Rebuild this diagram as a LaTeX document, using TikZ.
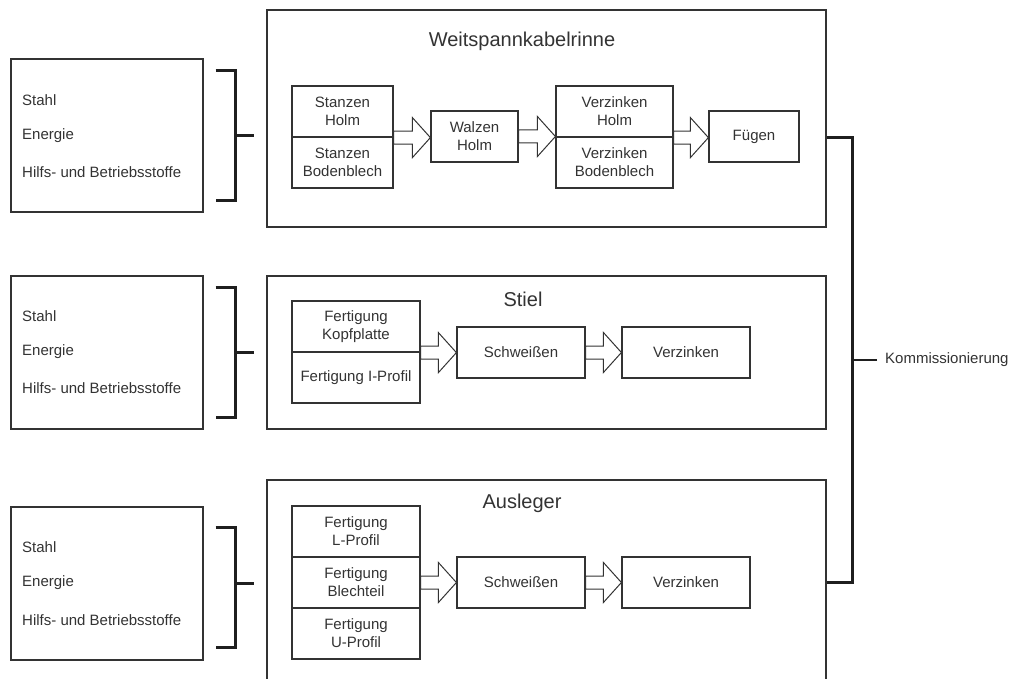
\documentclass[tikz,border=0pt]{standalone}
\usepackage{fontspec}
\setmainfont{Liberation Sans}
\usetikzlibrary{calc}
\begin{document}
\begin{tikzpicture}[x=1pt,y=-1pt,
  frame/.style={draw=black!80, line width=1.2pt, fill=white, inner sep=0pt},
  box/.style 2 args={draw=black!80, line width=1.2pt, fill=white, inner sep=0pt, align=center,
    text=black!80, font=\fontsize{15}{18}\selectfont, minimum width=#1pt, minimum height=#2pt},
  intext/.style={anchor=west, inner sep=0pt, text=black!80, font=\fontsize{15}{18}\selectfont},
  titletext/.style={inner sep=0pt, text=black!80, font=\fontsize{20}{24}\selectfont},
  brack/.style={draw=black!88, line width=2.4pt},
  blockarrow/.style={draw=black!80, line width=1pt, fill=white, line join=miter,
    to path={let \p1=(\tikztostart), \p2=(\tikztotarget) in
      (\x1,\y1+6.5pt) -- (\x2-18pt,\y1+6.5pt) -- (\x2-18pt,\y1+20pt) -- (\x2,\y1)
      -- (\x2-18pt,\y1-20pt) -- (\x2-18pt,\y1-6.5pt) -- (\x1,\y1-6.5pt) -- cycle}}
]
\clip (0,0) rectangle (1027,679);
\fill[white] (0,0) rectangle (1027,679);

% ---------- input boxes ----------
\node[frame, minimum width=192pt, minimum height=153pt] (in1) at (107,135.5) {};
\node[intext] (i1a) at (22,100) {Stahl};
\node[intext] (i1b) at (22,136) {Energie};
\node[intext] (i1c) at (22,172) {Hilfs- und Betriebsstoffe};

\node[frame, minimum width=192pt, minimum height=153pt] (in2) at (107,352.5) {};
\node[intext] (i2a) at (22,316) {Stahl};
\node[intext] (i2b) at (22,352) {Energie};
\node[intext] (i2c) at (22,388) {Hilfs- und Betriebsstoffe};

\node[frame, minimum width=192pt, minimum height=153pt] (in3) at (107,583.5) {};
\node[intext] (i3a) at (22,547) {Stahl};
\node[intext] (i3b) at (22,583) {Energie};
\node[intext] (i3c) at (22,620) {Hilfs- und Betriebsstoffe};

% ---------- brackets ----------
\draw[brack] ([shift={(12,12)}]in1.north east) -- ++(20,0) |- ([shift={(12,-12)}]in1.south east);
\coordinate (t1) at ([xshift=50]in1.east);
\draw[brack] ([xshift=32]in1.east) -- (t1);
\draw[brack] ([shift={(12,12)}]in2.north east) -- ++(20,0) |- ([shift={(12,-12)}]in2.south east);
\coordinate (t2) at ([xshift=50]in2.east);
\draw[brack] ([xshift=32]in2.east) -- (t2);
\draw[brack] ([shift={(12,21)}]in3.north east) -- ++(20,0) |- ([shift={(12,-13)}]in3.south east);
\coordinate (t3) at ([xshift=50]in3.east);
\draw[brack] ([xshift=32]in3.east) -- (t3);

% ---------- group boxes ----------
\node[frame, minimum width=559pt, minimum height=217pt] (g1) at (546.5,118.5) {};
\node[frame, minimum width=559pt, minimum height=153pt] (g2) at (546.5,352.5) {};
\node[frame, minimum width=559pt, minimum height=240pt] (g3) at (546.5,600) {};

\node[titletext] (tt1) at (522,41) {Weitspannkabelrinne};
\node[titletext] (tt2) at (523,299) {Stiel};
\node[titletext] (tt3) at (522,503) {Ausleger};

% ---------- Weitspannkabelrinne ----------
\node[box={101}{51}] (sh) at (342.5,111.5) {Stanzen\\Holm};
\node[box={101}{51}] (sb) at (342.5,162.5) {Stanzen\\Bodenblech};
\node[box={87}{51}] (wh) at (474.5,136.5) {Walzen\\Holm};
\node[box={117}{51}] (vh) at (614.5,111.5) {Verzinken\\Holm};
\node[box={117}{51}] (vb) at (614.5,162.5) {Verzinken\\Bodenblech};
\node[box={90}{51}] (fu) at (754,136.5) {Fügen};

\draw[blockarrow] (sh.south east) to (wh.west);
\draw[blockarrow] (wh.east) to (vh.south west);
\draw[blockarrow] (vh.south east) to (fu.west);

% ---------- Stiel ----------
\node[box={128}{51}] (fk) at (356,326.5) {Fertigung\\Kopfplatte};
\node[box={128}{51}] (fi) at (356,377.5) {Fertigung I-Profil};
\node[box={128}{51}] (s2) at (521,352.5) {Schweißen};
\node[box={128}{51}] (v2) at (686,352.5) {Verzinken};

\draw[blockarrow] (fk.south east) to (s2.west);
\draw[blockarrow] (s2.east) to (v2.west);

% ---------- Ausleger ----------
\node[box={128}{51}] (fl) at (356,531.5) {Fertigung\\L-Profil};
\node[box={128}{51}] (fb) at (356,582.5) {Fertigung\\Blechteil};
\node[box={128}{51}] (fp) at (356,633.5) {Fertigung\\U-Profil};
\node[box={128}{51}] (s3) at (521,582.5) {Schweißen};
\node[box={128}{51}] (v3) at (686,582.5) {Verzinken};

\draw[blockarrow] (fb.east) to (s3.west);
\draw[blockarrow] (s3.east) to (v3.west);

% ---------- Kommissionierung ----------
\node[intext, inner xsep=8pt] (komm) at (877,360) {Kommissionierung};
\draw[brack] (g1.east |- sh.south) -- ++(26,0) |- (g3.east |- fb.east);
\draw[brack] (komm.west) -- ++(-25,0);
\end{tikzpicture}
\end{document}
